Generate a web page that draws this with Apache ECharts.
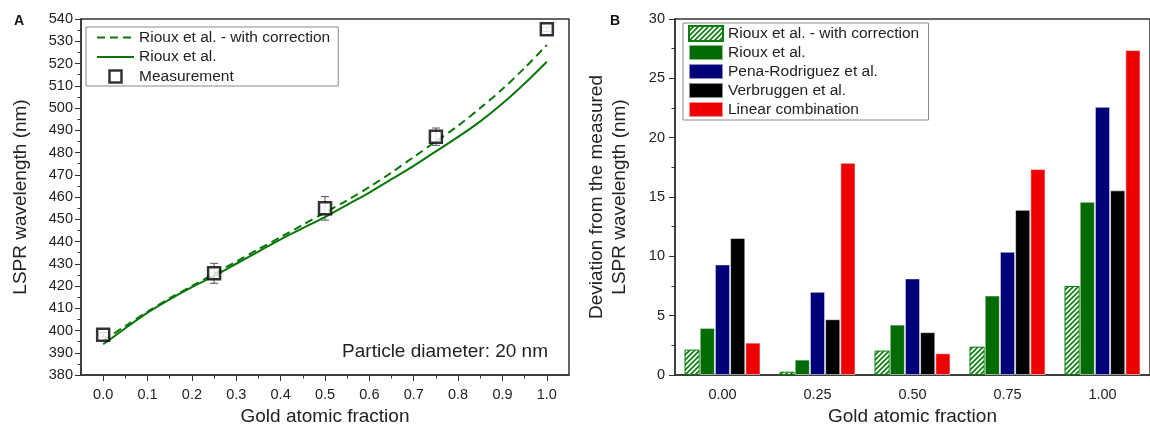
<!DOCTYPE html>
<html>
<head>
<meta charset="utf-8">
<script src="https://cdn.jsdelivr.net/npm/echarts@6/dist/echarts.min.js"></script>
<style>
  html, body { margin: 0; padding: 0; background: #fff; }
  #chart { width: 1150px; height: 435px; }
</style>
</head>
<body>
<div id="chart"></div>
<script>
// Panel A: LSPR wavelength vs gold atomic fraction
const curveX = [0, 0.05, 0.1, 0.15, 0.2, 0.25, 0.3, 0.35, 0.4, 0.45, 0.5,
                0.55, 0.6, 0.65, 0.7, 0.75, 0.8, 0.85, 0.9, 0.95, 1.0];
const riouxCorrected = [395.5, 402, 408.5, 414.5, 420, 425.5, 431, 436.5, 442, 447.5, 453,
                        458.5, 464.5, 471, 478, 485, 492, 500, 508.5, 518, 528.3];
const rioux = [393.8, 401, 408, 414, 419.5, 424.5, 430, 435.5, 441, 446, 451,
               456.5, 462, 468, 474, 480.5, 487, 494, 502, 511, 520.8];
const measuredX = [0, 0.25, 0.5, 0.75, 1.0];
const measured = [398.1, 425.7, 454.9, 487.1, 535.4];
const measuredErr = [1.0, 4.5, 5.3, 3.9, 1.0];
const fractionTicks = [0, 0.1, 0.2, 0.3, 0.4, 0.5, 0.6, 0.7, 0.8, 0.9, 1.0];
const fractionMinorTicks = [0.05, 0.15, 0.25, 0.35, 0.45, 0.55, 0.65, 0.75, 0.85, 0.95];

// Panel B: deviation from the measured wavelength
const categories = ['0.00', '0.25', '0.50', '0.75', '1.00'];
const devRiouxCorrected = [2.14, 0.28, 2.06, 2.39, 7.50];
const devRioux = [3.97, 1.30, 4.25, 6.70, 14.6];
const devPena = [9.32, 7.01, 8.14, 10.39, 22.6];
const devVerbruggen = [11.55, 4.70, 3.61, 13.92, 15.56];
const devLinear = [2.73, 17.88, 1.83, 17.35, 27.38];

const FONT = '"Liberation Sans", Arial, sans-serif';
const GREEN = '#0a760a';
const AXIS = '#333';

// diagonal hatch used by the corrected Rioux bars
function hatchPattern() {
  const s = 5;
  const c = document.createElement('canvas');
  c.width = s; c.height = s;
  const g = c.getContext('2d');
  g.fillStyle = '#fff';
  g.fillRect(0, 0, s, s);
  g.strokeStyle = '#0b7d0b';
  g.lineWidth = 1.6;
  g.beginPath();
  g.moveTo(-1, s + 1); g.lineTo(s + 1, -1);
  g.moveTo(-1, 1); g.lineTo(1, -1);
  g.moveTo(s - 1, s + 1); g.lineTo(s + 1, s - 1);
  g.stroke();
  return { image: c, repeat: 'repeat' };
}

const chart = echarts.init(document.getElementById('chart'), null, { renderer: 'canvas' });

const axisLineStyle = { color: AXIS, width: 1.5 };
const labelStyle = { color: '#222', fontSize: 14.5, fontFamily: FONT };
const nameStyle = { color: '#222', fontSize: 19, fontFamily: FONT };
const legendText = { color: '#222', fontSize: 15.5, fontFamily: FONT, lineHeight: 17 };

const solidBar = (name, data, color) => ({
  name, type: 'bar', xAxisIndex: 2, yAxisIndex: 1, data,
  barGap: '0%', barCategoryGap: '20%',
  itemStyle: { color, borderColor: 'rgba(255,255,255,0.55)', borderWidth: 1 }
});

chart.setOption({
  animation: false,
  backgroundColor: '#fff',
  textStyle: { fontFamily: FONT },
  grid: [
    { left: 81, top: 19, width: 488, height: 356, show: true, borderColor: AXIS, borderWidth: 1.5, containLabel: false },
    { left: 675, top: 19, width: 485, height: 356, show: true, borderColor: AXIS, borderWidth: 1.5, containLabel: false }
  ],
  legend: [
    {
      left: 86, top: 27, orient: 'vertical',
      data: [
        { name: 'Rioux et al. - with correction', itemStyle: { opacity: 0 } },
        { name: 'Rioux et al.', itemStyle: { opacity: 0 } },
        {
          name: 'Measurement', icon: 'path://M0,0H10V10H0Z',
          itemStyle: { color: '#fff', borderColor: '#000', borderWidth: 2.5 }
        }
      ],
      itemWidth: 37, itemHeight: 12, itemGap: 2.5,
      padding: [2, 8, 1, 10],
      borderColor: '#888', borderWidth: 1,
      textStyle: legendText
    },
    {
      left: 683, top: 23, orient: 'vertical',
      data: ['Rioux et al. - with correction ', 'Rioux et al. ', 'Pena-Rodriguez et al.', 'Verbruggen et al.', 'Linear combination'],
      icon: 'rect',
      itemWidth: 34, itemHeight: 15, itemGap: 2,
      padding: [2, 5, 2, 5],
      borderColor: '#888', borderWidth: 1,
      textStyle: legendText
    }
  ],
  xAxis: [
    {
      type: 'value', gridIndex: 0, position: 'bottom', min: -0.05, max: 1.05,
      axisLine: { onZero: false, lineStyle: axisLineStyle },
      axisTick: { length: 6, customValues: fractionTicks, lineStyle: { color: AXIS } },
      axisLabel: { ...labelStyle, margin: 12, customValues: fractionTicks, formatter: v => v.toFixed(1) },
      splitLine: { show: false },
      name: 'Gold atomic fraction', nameLocation: 'middle', nameGap: 27, nameTextStyle: nameStyle
    },
    {
      type: 'value', gridIndex: 0, position: 'bottom', min: -0.05, max: 1.05,
      axisLine: { show: false, onZero: false },
      axisTick: { length: 3.5, customValues: fractionMinorTicks, lineStyle: { color: AXIS } },
      axisLabel: { show: false },
      splitLine: { show: false }
    },
    {
      type: 'category', gridIndex: 1, position: 'bottom', data: categories,
      axisLine: { onZero: false, lineStyle: axisLineStyle },
      axisTick: { alignWithLabel: true, length: 6, lineStyle: { color: AXIS } },
      axisLabel: { ...labelStyle, margin: 12 },
      name: 'Gold atomic fraction', nameLocation: 'middle', nameGap: 27, nameTextStyle: nameStyle
    },
    {
      type: 'category', gridIndex: 1, position: 'bottom', data: categories,
      axisLine: { show: false, onZero: false },
      axisTick: { alignWithLabel: false, length: 4, lineStyle: { color: AXIS } },
      axisLabel: { show: false }
    }
  ],
  yAxis: [
    {
      type: 'value', gridIndex: 0, position: 'left', min: 380, max: 540, interval: 10,
      axisLine: { show: true, onZero: false, lineStyle: axisLineStyle },
      axisTick: { show: true, length: 6, lineStyle: { color: AXIS } },
      minorTick: { show: true, splitNumber: 2, length: 3.5, lineStyle: { color: AXIS } },
      axisLabel: { ...labelStyle, margin: 8 },
      splitLine: { show: false },
      name: 'LSPR wavelength (nm)', nameLocation: 'middle', nameGap: 51, nameTextStyle: nameStyle
    },
    {
      type: 'value', gridIndex: 1, position: 'left', min: 0, max: 30, interval: 5,
      axisLine: { show: true, onZero: false, lineStyle: axisLineStyle },
      axisTick: { show: true, length: 6, lineStyle: { color: AXIS } },
      minorTick: { show: true, splitNumber: 2, length: 3.5, lineStyle: { color: AXIS } },
      axisLabel: { ...labelStyle, margin: 10 },
      splitLine: { show: false },
      name: 'Deviation from the measured\nLSPR wavelength (nm)', nameLocation: 'middle', nameGap: 44,
      nameTextStyle: { ...nameStyle, lineHeight: 23 }
    }
  ],
  series: [
    {
      name: 'Rioux et al. - with correction', type: 'line', xAxisIndex: 0, yAxisIndex: 0,
      data: curveX.map((x, i) => [x, riouxCorrected[i]]),
      smooth: 0.3, symbol: 'none', color: GREEN,
      lineStyle: { color: GREEN, width: 2, type: [8, 5] }
    },
    {
      name: 'Rioux et al.', type: 'line', xAxisIndex: 0, yAxisIndex: 0,
      data: curveX.map((x, i) => [x, rioux[i]]),
      smooth: 0.3, symbol: 'none', color: GREEN,
      lineStyle: { color: GREEN, width: 2 }
    },
    {
      name: 'errors', type: 'custom', xAxisIndex: 0, yAxisIndex: 0, z: 3,
      data: measuredX.map((x, i) => [x, measured[i] - measuredErr[i], measured[i] + measuredErr[i]]),
      renderItem: (params, api) => {
        const lo = api.coord([api.value(0), api.value(1)]);
        const hi = api.coord([api.value(0), api.value(2)]);
        const w = 4;
        const style = { stroke: '#555', lineWidth: 1 };
        return {
          type: 'group',
          children: [
            { type: 'line', shape: { x1: lo[0], y1: lo[1], x2: hi[0], y2: hi[1] }, style },
            { type: 'line', shape: { x1: lo[0] - w, y1: lo[1], x2: lo[0] + w, y2: lo[1] }, style },
            { type: 'line', shape: { x1: hi[0] - w, y1: hi[1], x2: hi[0] + w, y2: hi[1] }, style }
          ]
        };
      }
    },
    {
      name: 'Measurement', type: 'scatter', xAxisIndex: 0, yAxisIndex: 0, z: 5,
      data: measuredX.map((x, i) => [x, measured[i]]),
      symbol: 'rect', symbolSize: 12,
      itemStyle: { color: '#fff', borderColor: '#000', borderWidth: 2.5 }
    },
    {
      name: 'Rioux et al. - with correction ', type: 'bar', xAxisIndex: 2, yAxisIndex: 1,
      data: devRiouxCorrected, barGap: '0%', barCategoryGap: '20%',
      itemStyle: { color: hatchPattern(), borderColor: '#0b7d0b', borderWidth: 1 }
    },
    solidBar('Rioux et al. ', devRioux, '#036b03'),
    solidBar('Pena-Rodriguez et al.', devPena, '#000078'),
    solidBar('Verbruggen et al.', devVerbruggen, '#000000'),
    solidBar('Linear combination', devLinear, '#ee0000')
  ],
  graphic: [
    { type: 'text', left: 14, top: 14, style: { text: 'A', font: 'bold 14px ' + FONT, fill: '#111' } },
    { type: 'text', left: 610, top: 14, style: { text: 'B', font: 'bold 14px ' + FONT, fill: '#111' } },
    { type: 'text', right: 602, top: 342, style: { text: 'Particle diameter: 20 nm', font: '19px ' + FONT, fill: '#222' } }
  ]
});
</script>
</body>
</html>
